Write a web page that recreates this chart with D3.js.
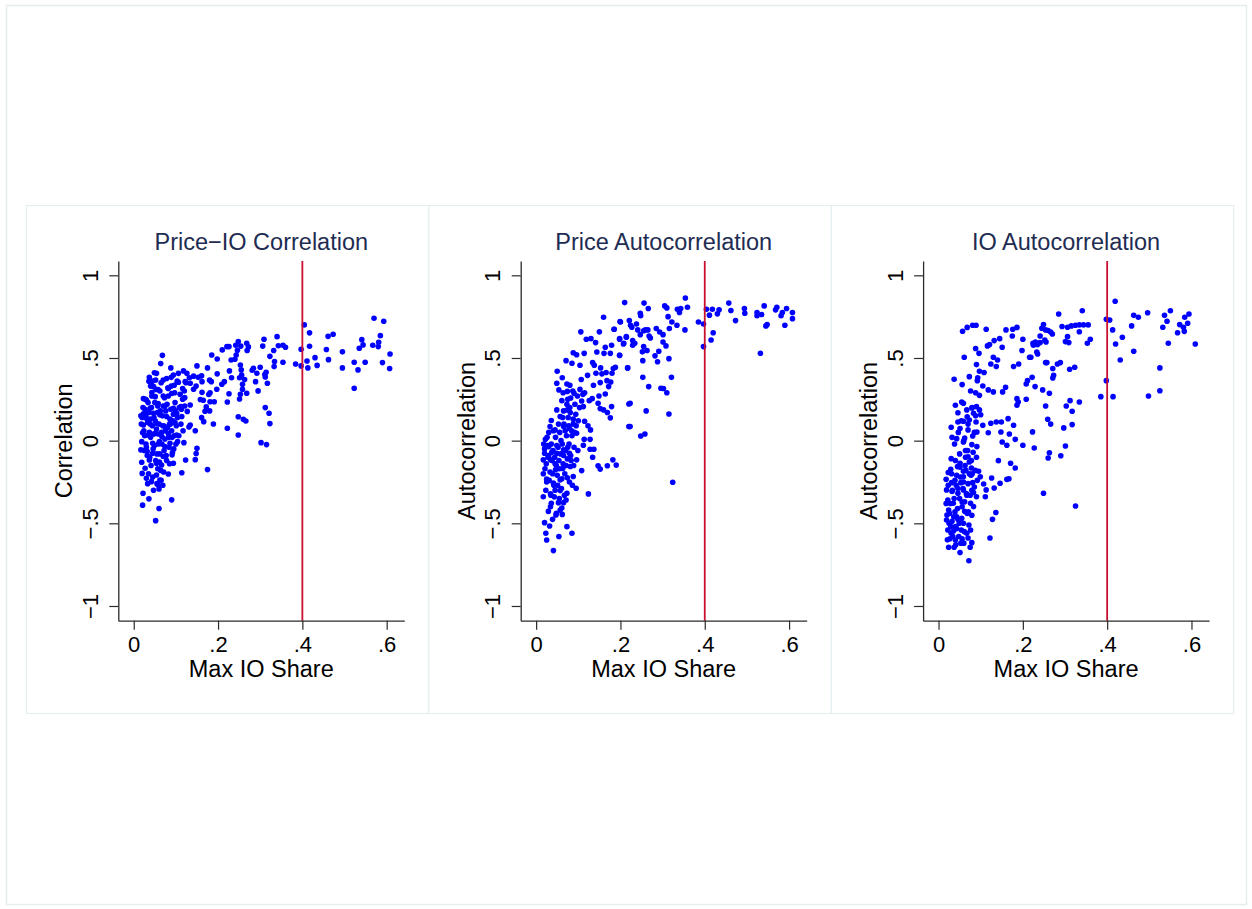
<!DOCTYPE html>
<html>
<head>
<meta charset="utf-8">
<script src="https://cdn.jsdelivr.net/npm/d3@7"></script>
<style>
  html, body { margin: 0; padding: 0; background: #ffffff; }
  svg { display: block; font-family: "Liberation Sans", Arial, Helvetica, sans-serif; }
</style>
</head>
<body>
<svg id="chart" width="1252" height="909"></svg>
<script>
// ---------------- data ----------------
const panelTitles = ["Price\u2212IO Correlation", "Price Autocorrelation", "IO Autocorrelation"];
const yAxisTitles = ["Correlation", "Autocorrelation", "Autocorrelation"];
const xAxisTitle = "Max IO Share";
const xTickValues = [0, 0.2, 0.4, 0.6];
const xTickLabels = ["0", ".2", ".4", ".6"];
const yTickValues = [-1, -0.5, 0, 0.5, 1];
const yTickLabels = ["\u22121", "\u2212.5", "0", ".5", "1"];
const cutoffLine = 0.4;

// Panel 1: Price-IO correlation vs max IO share
const pricePoints = [
[0.4045,0.700],[0.417,0.652],[0.397,0.553],[0.417,0.571],[0.411,0.482],[0.397,0.452],[0.413,0.44],[0.43,0.502],[0.435,0.455],[0.384,0.464],
[0.461,0.631],[0.473,0.644],[0.457,0.551],[0.462,0.49],[0.495,0.537],[0.495,0.44],[0.523,0.474],[0.523,0.317],[0.532,0.428],[0.549,0.474],
[0.535,0.559],[0.541,0.611],[0.544,0.579],[0.567,0.577],[0.570,0.740],[0.593,0.722],[0.585,0.635],[0.581,0.595],[0.58,0.569],[0.608,0.524],
[0.59,0.472],[0.607,0.436],
[0.309,0.613],[0.306,0.572],[0.34,0.629],[0.343,0.574],[0.354,0.577],[0.36,0.565],[0.332,0.545],[0.323,0.51],[0.334,0.478],[0.333,0.448],
[0.354,0.474],[0.248,0.599],[0.242,0.577],[0.221,0.569],[0.226,0.569],[0.21,0.549],[0.254,0.572],[0.268,0.589],[0.272,0.567],[0.269,0.545],
[0.246,0.547],[0.243,0.518],[0.24,0.492],[0.231,0.488],[0.185,0.518],[0.198,0.494],[0.15,0.452],[0.175,0.44],[0.253,0.458],[0.255,0.428],
[0.284,0.438],[0.281,0.426],[0.3,0.444],[0.314,0.414],[0.312,0.385],[0.317,0.347],[0.311,0.40],[0.292,0.408],[0.289,0.357],[0.295,0.301],
[0.312,0.2],[0.321,0.166],[0.323,0.103],[0.302,-0.012],[0.315,-0.024],[0.248,0.145],[0.26,0.129],[0.266,0.119],[0.248,0.034],[0.222,0.075],
[0.256,0.397],[0.251,0.38],[0.263,0.37],[0.258,0.341],[0.258,0.311],[0.268,0.287],[0.251,0.252],[0.253,0.28],[0.226,0.284],[0.222,0.234],
[0.232,0.38],[0.209,0.341],[0.215,0.357],[0.197,0.311],[0.198,0.404],[0.184,0.357],[0.18,0.366],[0.181,0.29],[0.178,0.279],[0.191,0.235],
[0.181,0.235],[0.172,0.204],[0.161,0.139],[0.166,0.115],[0.189,0.101],[0.146,0.06],[0.15,-0.046],[0.148,-0.078],[0.146,-0.115],[0.175,-0.175],
[0.134,0.216],[0.134,0.347],[0.153,0.383],[0.142,0.39],[0.161,0.392],[0.162,0.357],[0.148,0.33],[0.142,0.311],[0.162,0.292],[0.158,0.249],
[0.165,0.244],[0.18,0.18],[0.169,0.178],[0.227,0.422],[0.134,0.095],
[0.068,0.516],[0.064,0.466],[0.088,0.44],[0.049,0.411],[0.054,0.407],[0.037,0.383],[0.036,0.359],[0.052,0.367],[0.07,0.367],[0.078,0.376],
[0.089,0.383],[0.094,0.397],[0.106,0.407],[0.118,0.422],[0.126,0.407],[0.106,0.353],[0.122,0.357],[0.132,0.38],[0.047,0.327],[0.058,0.309],
[0.043,0.291],[0.023,0.254],[0.03,0.246],[0.051,0.266],[0.07,0.27],[0.09,0.285],[0.082,0.315],[0.096,0.335],[0.116,0.315],[0.121,0.26],
[0.112,0.206],[0.094,0.196],[0.074,0.209],[0.058,0.224],[0.039,0.196],[0.023,0.162],[0.017,0.151],[0.03,0.136],[0.047,0.166],[0.062,0.156],
[0.078,0.146],[0.102,0.166],[0.114,0.146],[0.127,0.177],[0.023,0.095],[0.039,0.1],[0.054,0.105],[0.072,0.088],[0.085,0.1],[0.098,0.109],
[0.131,0.082],[0.021,0.048],[0.035,0.034],[0.051,0.044],[0.067,0.024],[0.082,0.044],[0.102,0.034],[0.019,-0.006],[0.029,-0.02],[0.045,-0.016],
[0.061,-0.006],[0.074,-0.036],[0.086,-0.016],[0.104,-0.006],[0.119,-0.012],[0.017,-0.056],[0.032,-0.066],[0.045,-0.076],[0.062,-0.08],[0.07,-0.096],
[0.091,-0.086],[0.094,-0.137],[0.019,-0.131],[0.037,-0.117],[0.054,-0.137],[0.066,-0.147],[0.027,-0.167],[0.123,-0.117],[0.114,-0.194],[0.02,-0.198],
[0.03,-0.228],[0.042,-0.248],[0.054,-0.208],[0.062,-0.238],[0.082,-0.202],[0.058,-0.268],[0.06,-0.292],[0.022,-0.318],[0.036,-0.352],[0.09,-0.358],
[0.021,-0.39],[0.06,-0.41],[0.052,-0.484],
[0.02,0.14],[0.024,0.06],[0.027,0.19],[0.03,-0.04],[0.033,0.11],[0.036,0.17],[0.038,-0.1],[0.04,0.02],[0.042,0.2],[0.044,0.09],
[0.046,-0.05],[0.048,0.14],[0.05,0.23],[0.052,-0.12],[0.054,0.07],[0.056,0.17],[0.058,-0.02],[0.06,0.1],[0.062,0.3],[0.064,-0.18],
[0.066,0.05],[0.068,0.15],[0.07,0.21],[0.072,-0.06],[0.074,0.01],[0.076,0.18],[0.078,-0.12],[0.08,0.08],[0.082,0.27],[0.084,-0.04],
[0.086,0.13],[0.088,0.19],[0.09,0.06],[0.092,-0.07],[0.094,0.16],[0.096,0.03],[0.098,0.23],[0.1,-0.02],[0.104,0.14],[0.108,0.2],
[0.112,0.1],[0.116,0.25],[0.12,0.3],[0.124,0.35],[0.035,-0.2],[0.045,-0.22],[0.055,-0.26],[0.065,-0.24],[0.028,0.25],[0.04,0.33],
[0.018,0.1],[0.022,0.2],[0.026,0.03],[0.029,0.16],[0.032,-0.09],[0.034,0.23],[0.037,0.05],[0.039,0.13],[0.041,-0.15],[0.043,0.27],
[0.047,0.04],[0.049,-0.03],[0.051,0.12],[0.053,0.31],[0.055,-0.08],[0.057,0.21],[0.059,0.04],[0.061,-0.13],[0.063,0.18],[0.065,0.35],
[0.067,-0.02],[0.069,0.09],[0.071,-0.19],[0.073,0.26],[0.075,0.06],[0.077,-0.09],[0.079,0.22],[0.081,0.32],[0.083,0.02],[0.085,-0.14],
[0.087,0.1],[0.089,0.33],[0.091,0.02],[0.093,0.12],[0.095,-0.05],[0.097,0.29],[0.099,0.18],[0.101,0.09],[0.103,0.36],[0.107,0.03],
[0.11,0.28],[0.113,0.19],[0.117,0.06],[0.121,0.21],[0.025,-0.06],[0.033,-0.26],[0.047,-0.3],[0.057,-0.17],[0.069,-0.27],[0.044,0.36]
];

// Panel 2: Price autocorrelation vs max IO share
const priceAutoPoints = [
[0.106,0.658],[0.15,0.658],[0.199,0.72],[0.185,0.674],[0.119,0.613],[0.13,0.617],[0.141,0.593],[0.164,0.565],[0.179,0.577],[0.198,0.613],
[0.214,0.629],[0.207,0.585],[0.088,0.532],[0.096,0.52],[0.114,0.528],[0.144,0.536],[0.161,0.528],[0.176,0.528],[0.198,0.516],[0.071,0.484],
[0.085,0.468],[0.104,0.456],[0.134,0.472],[0.138,0.456],[0.153,0.44],[0.166,0.412],[0.183,0.436],[0.188,0.444],[0.18,0.408],[0.217,0.44],
[0.05,0.42],[0.062,0.38],[0.049,0.347],[0.073,0.343],[0.08,0.335],[0.122,0.395],[0.142,0.408],[0.156,0.404],[0.168,0.363],[0.177,0.355],
[0.152,0.351],[0.136,0.335],[0.172,0.327],[0.054,0.307],[0.064,0.29],[0.074,0.298],[0.09,0.286],[0.082,0.258],[0.061,0.242],[0.115,0.29],
[0.164,0.282],[0.149,0.27],[0.126,0.242],[0.133,0.254],[0.112,0.206],[0.152,0.194],[0.179,0.206],[0.147,0.226],[0.16,0.186],[0.169,0.17],
[0.176,0.138],[0.22,0.222],[0.22,0.085],[0.049,0.186],[0.057,0.146],[0.074,0.186],[0.088,0.13],[0.115,0.117],[0.123,0.09],[0.129,0.065],
[0.036,0.122],[0.033,0.085],[0.045,0.065],[0.065,0.085],[0.079,0.075],[0.096,0.045],[0.114,0.008],[0.128,0.008],[0.112,-0.028],[0.128,-0.052],
[0.137,-0.052],[0.134,-0.1],[0.147,-0.152],[0.152,-0.172],[0.169,-0.152],[0.182,-0.116],[0.19,-0.148],[0.022,0.008],[0.03,-0.036],[0.02,-0.076],
[0.017,-0.116],[0.034,-0.116],[0.049,-0.076],[0.065,-0.056],[0.079,-0.076],[0.096,-0.116],[0.108,-0.181],[0.081,-0.156],[0.063,-0.168],[0.046,-0.176],
[0.017,-0.2],[0.025,-0.233],[0.041,-0.257],[0.057,-0.237],[0.074,-0.225],[0.088,-0.217],[0.095,-0.288],[0.124,-0.322],[0.017,-0.339],[0.034,-0.322],
[0.057,-0.302],[0.073,-0.318],[0.036,-0.379],[0.053,-0.375],[0.065,-0.375],[0.071,-0.359],[0.061,-0.407],[0.029,-0.428],[0.048,-0.44],[0.062,-0.446],
[0.039,-0.476],[0.02,-0.496],[0.032,-0.516],[0.073,-0.52],[0.023,-0.56],[0.054,-0.58],[0.085,-0.56],[0.025,-0.601],[0.041,-0.665],
[0.21,0.835],[0.16,0.746],[0.256,0.832],[0.266,0.799],[0.247,0.771],[0.248,0.755],[0.305,0.815],[0.31,0.803],[0.313,0.75],[0.322,0.718],
[0.335,0.795],[0.34,0.775],[0.343,0.799],[0.354,0.863],[0.359,0.807],[0.334,0.698],[0.353,0.67],[0.385,0.718],[0.397,0.706],[0.397,0.569],
[0.404,0.795],[0.418,0.795],[0.411,0.759],[0.434,0.791],[0.43,0.767],[0.42,0.653],[0.415,0.609],[0.457,0.832],[0.462,0.787],[0.473,0.726],
[0.494,0.799],[0.495,0.771],[0.524,0.775],[0.524,0.755],[0.535,0.763],[0.541,0.815],[0.532,0.529],[0.545,0.694],[0.548,0.702],[0.568,0.791],
[0.571,0.807],[0.581,0.755],[0.584,0.775],[0.594,0.799],[0.59,0.698],[0.608,0.775],[0.608,0.738],
[0.185,0.674],[0.2,0.718],[0.221,0.726],[0.224,0.698],[0.227,0.686],[0.238,0.706],[0.241,0.67],[0.247,0.641],[0.255,0.665],[0.259,0.67],
[0.265,0.67],[0.268,0.633],[0.271,0.621],[0.285,0.678],[0.293,0.657],[0.301,0.641],[0.316,0.678],[0.301,0.597],[0.308,0.573],[0.291,0.541],
[0.282,0.513],[0.288,0.477],[0.315,0.496],[0.255,0.569],[0.252,0.537],[0.263,0.545],[0.253,0.484],[0.229,0.605],[0.234,0.589],[0.229,0.577],
[0.214,0.625],[0.208,0.589],[0.198,0.617],[0.198,0.516],[0.217,0.44],[0.253,0.383],[0.321,0.383],[0.267,0.327],[0.296,0.317],[0.302,0.315],
[0.31,0.29],[0.223,0.226],[0.261,0.18],[0.315,0.161],[0.223,0.085],[0.248,0.028],[0.258,0.04],[0.324,-0.252],
[0.02,-0.05],[0.024,-0.14],[0.027,-0.03],[0.03,-0.09],[0.033,-0.19],[0.036,-0.02],[0.038,-0.12],[0.04,-0.06],[0.042,-0.27],[0.044,-0.1],
[0.046,0.02],[0.048,-0.15],[0.05,-0.21],[0.052,-0.04],[0.054,-0.12],[0.056,0.05],[0.058,-0.08],[0.06,-0.29],[0.062,-0.02],[0.064,-0.14],
[0.066,0.1],[0.068,-0.2],[0.07,-0.06],[0.072,0.03],[0.074,-0.11],[0.076,0.14],[0.078,-0.02],[0.08,0.2],[0.082,-0.09],[0.084,0.06],
[0.086,-0.27],[0.088,0.1],[0.09,-0.04],[0.092,0.22],[0.094,0.16],[0.098,0.27],[0.1,0.12],[0.104,0.31],[0.108,0.24],[0.03,0.05],
[0.035,-0.33],[0.045,-0.3],[0.055,-0.35],[0.025,-0.25],[0.065,0.18],[0.075,0.25],
[0.018,-0.02],[0.021,-0.17],[0.023,-0.3],[0.026,0.02],[0.028,-0.1],[0.031,-0.24],[0.034,-0.4],[0.037,-0.07],[0.039,-0.2],[0.041,0.06],
[0.043,-0.34],[0.045,-0.14],[0.047,-0.45],[0.049,-0.03],[0.051,-0.27],[0.053,0.1],[0.055,-0.17],[0.057,-0.42],[0.059,0.0],[0.061,-0.23],
[0.063,0.14],[0.065,-0.09],[0.067,-0.33],[0.069,0.06],[0.071,-0.15],[0.073,0.22],[0.075,-0.04],[0.077,0.09],[0.079,-0.25],[0.081,0.17],
[0.083,-0.12],[0.085,0.03],[0.087,0.3],[0.089,-0.15],[0.091,0.05],[0.095,0.09],[0.099,-0.06],[0.103,0.2],[0.107,0.37],[0.111,0.28]
];

// Panel 3: IO autocorrelation vs max IO share
const ioAutoPoints = [
[0.057,0.662],[0.068,0.685],[0.081,0.698],[0.089,0.698],[0.113,0.674],[0.16,0.67],[0.176,0.674],[0.186,0.685],[0.175,0.633],[0.2,0.613],
[0.145,0.617],[0.132,0.605],[0.151,0.565],[0.116,0.573],[0.121,0.581],[0.088,0.557],[0.096,0.528],[0.061,0.504],[0.13,0.504],[0.14,0.488],
[0.198,0.545],[0.216,0.504],[0.124,0.464],[0.137,0.448],[0.09,0.46],[0.178,0.448],[0.19,0.464],[0.097,0.42],[0.108,0.412],[0.073,0.387],
[0.037,0.371],[0.056,0.339],[0.092,0.363],[0.105,0.331],[0.159,0.323],[0.118,0.307],[0.13,0.295],[0.152,0.295],[0.088,0.29],[0.097,0.274],
[0.186,0.254],[0.208,0.25],[0.189,0.234],[0.186,0.214],[0.211,0.363],[0.208,0.343],[0.055,0.234],[0.059,0.226],[0.04,0.214],[0.067,0.186],
[0.079,0.198],[0.09,0.206],[0.097,0.186],[0.083,0.165],[0.1,0.157],[0.046,0.169],[0.068,0.145],[0.046,0.113],[0.059,0.117],[0.073,0.125],
[0.089,0.113],[0.105,0.093],[0.124,0.105],[0.137,0.113],[0.149,0.113],[0.165,0.133],[0.178,0.093],[0.03,0.081],[0.051,0.073],[0.07,0.065],
[0.091,0.052],[0.118,0.048],[0.148,0.052],[0.168,0.04],[0.032,0.02],[0.043,0.012],[0.062,0.016],[0.081,0.028],[0.182,0.008],[0.038,-0.02],
[0.059,-0.008],[0.079,-0.024],[0.091,-0.036],[0.151,-0.008],[0.162,-0.028],[0.2,-0.028],[0.064,-0.06],[0.07,-0.097],[0.073,-0.129],[0.03,-0.109],
[0.051,-0.137],[0.142,-0.121],[0.171,-0.137],[0.182,-0.165],[0.029,-0.173],[0.023,-0.193],[0.045,-0.157],[0.059,-0.185],[0.078,-0.165],[0.043,-0.21],
[0.059,-0.218],[0.077,-0.21],[0.095,-0.185],[0.099,-0.218],[0.018,-0.234],[0.031,-0.254],[0.053,-0.254],[0.081,-0.254],[0.126,-0.226],[0.132,-0.286],
[0.146,-0.258],[0.162,-0.234],[0.167,-0.230],[0.107,-0.262],[0.113,-0.298],[0.111,-0.339],[0.019,-0.298],[0.032,-0.308],[0.046,-0.318],[0.059,-0.298],
[0.067,-0.33],[0.083,-0.314],[0.09,-0.339],[0.022,-0.359],[0.035,-0.379],[0.056,-0.371],[0.076,-0.379],[0.083,-0.399],[0.024,-0.419],[0.039,-0.431],
[0.062,-0.427],[0.079,-0.451],[0.136,-0.435],[0.128,-0.476],[0.019,-0.48],[0.032,-0.488],[0.046,-0.476],[0.059,-0.5],[0.022,-0.54],[0.035,-0.548],
[0.043,-0.532],[0.054,-0.54],[0.067,-0.56],[0.027,-0.593],[0.04,-0.601],[0.056,-0.593],[0.07,-0.589],[0.079,-0.617],[0.122,-0.589],[0.024,-0.645],
[0.037,-0.645],[0.051,-0.677],[0.075,-0.645],[0.072,-0.726],
[0.285,0.766],[0.341,0.786],[0.419,0.843],[0.398,0.734],[0.406,0.73],[0.413,0.67],[0.42,0.585],[0.436,0.625],[0.431,0.488],[0.398,0.363],
[0.385,0.266],[0.414,0.266],[0.463,0.758],[0.474,0.746],[0.458,0.694],[0.463,0.541],[0.496,0.774],[0.498,0.27],[0.525,0.44],[0.525,0.302],
[0.536,0.758],[0.542,0.722],[0.532,0.686],[0.55,0.786],[0.545,0.589],[0.567,0.653],[0.572,0.702],[0.581,0.686],[0.583,0.661],[0.584,0.746],
[0.594,0.766],[0.591,0.71],[0.609,0.585],[0.293,0.69],[0.306,0.686],[0.315,0.694],[0.325,0.698],[0.334,0.7],[0.344,0.7],[0.355,0.7],
[0.334,0.659],[0.36,0.613],[0.353,0.589],[0.306,0.629],[0.301,0.599],[0.309,0.593],[0.249,0.702],[0.245,0.68],[0.254,0.67],[0.26,0.666],
[0.266,0.657],[0.27,0.645],[0.241,0.633],[0.252,0.609],[0.255,0.597],[0.241,0.593],[0.23,0.597],[0.224,0.589],[0.225,0.577],[0.235,0.581],
[0.233,0.536],[0.235,0.524],[0.219,0.504],[0.254,0.472],[0.257,0.472],[0.271,0.436],[0.282,0.464],[0.289,0.472],[0.311,0.432],[0.323,0.444],
[0.273,0.395],[0.271,0.379],[0.222,0.383],[0.229,0.327],[0.247,0.307],[0.263,0.287],[0.254,0.21],[0.259,0.129],[0.266,0.1],[0.312,0.242],
[0.303,0.21],[0.317,0.178],[0.334,0.234],[0.297,0.077],[0.317,0.097],[0.301,-0.032],[0.29,-0.091],[0.26,-0.105],[0.263,-0.073],[0.227,-0.044],
[0.249,-0.318],[0.325,-0.395],[0.223,0.053],
[0.02,-0.45],[0.025,-0.5],[0.028,-0.38],[0.03,-0.56],[0.033,-0.3],[0.036,-0.46],[0.04,-0.52],[0.042,-0.27],[0.045,-0.41],[0.048,-0.58],
[0.05,-0.35],[0.052,-0.22],[0.055,-0.47],[0.058,-0.29],[0.06,-0.62],[0.062,-0.37],[0.065,-0.18],[0.068,-0.44],[0.07,-0.26],[0.072,-0.51],
[0.075,-0.33],[0.078,-0.12],[0.08,-0.2],[0.085,-0.28],[0.09,-0.1],[0.05,-0.08],[0.04,-0.12],[0.06,0.0],[0.07,0.1],[0.08,0.2],
[0.018,-0.38],[0.021,-0.6],[0.023,-0.27],[0.026,-0.44],[0.029,-0.52],[0.031,-0.2],[0.034,-0.58],[0.037,-0.35],[0.039,-0.24],[0.041,-0.63],
[0.043,-0.46],[0.046,-0.29],[0.049,-0.5],[0.051,-0.16],[0.053,-0.62],[0.056,-0.4],[0.059,-0.25],[0.061,-0.55],[0.063,-0.15],[0.066,-0.32],
[0.069,-0.06],[0.071,-0.43],[0.073,-0.2],[0.076,-0.54],[0.079,-0.3],[0.082,-0.07],[0.087,-0.18],[0.092,-0.24],[0.047,0.05],[0.054,0.12],
[0.064,-0.1],[0.085,0.05],[0.088,0.15],[0.076,0.3],[0.093,0.38]
];

const panelData = [pricePoints, priceAutoPoints, ioAutoPoints];

// ---------------- drawing ----------------
const svg = d3.select("#chart");
const FONT = '"Liberation Sans", Arial, Helvetica, sans-serif';
const panelStep = 402.4;
const tickFont = 22;
const titleFont = 23.5;

// outer frame
svg.append("rect")
  .attr("x", 6.5).attr("y", 5.5).attr("width", 1240).attr("height", 899)
  .attr("fill", "#ffffff").attr("stroke", "#e6eef0").attr("stroke-width", 1.5);

panelData.forEach((pts, i) => {
  const dx = i * panelStep;
  const g = svg.append("g");

  // panel frame
  g.append("rect")
    .attr("x", 26.5 + dx).attr("y", 205.5).attr("width", panelStep).attr("height", 508)
    .attr("fill", "#ffffff").attr("stroke", "#e6eef0").attr("stroke-width", 1.2);

  const x = d3.scaleLinear().domain([-0.0366, 0.6418]).range([118.3 + dx, 404.3 + dx]);
  const y = d3.scaleLinear().domain([-1.089, 1.0866]).range([620.7, 261]);

  // points
  g.append("g").selectAll("circle").data(pts).join("circle")
    .attr("cx", d => x(d[0])).attr("cy", d => y(d[1]))
    .attr("r", 2.8).attr("fill", "#0000ff");

  // cutoff line
  g.append("line")
    .attr("x1", x(cutoffLine)).attr("x2", x(cutoffLine))
    .attr("y1", y.range()[1]).attr("y2", y.range()[0])
    .attr("stroke", "#c8102e").attr("stroke-width", 1.8);

  // x axis
  const xAxis = d3.axisBottom(x).tickValues(xTickValues)
    .tickFormat((d, k) => xTickLabels[k]).tickSize(9).tickSizeOuter(0).tickPadding(3);
  const xg = g.append("g").attr("transform", `translate(0,${y.range()[0]})`).call(xAxis);
  xg.select(".domain").attr("stroke", "#2b2b2b").attr("stroke-width", 1.3);
  xg.selectAll(".tick line").attr("stroke", "#2b2b2b").attr("stroke-width", 1.2);
  xg.selectAll(".tick text").attr("font-family", FONT).attr("font-size", tickFont).attr("fill", "#000")
    .attr("dy", null).attr("y", 31.5);

  // y axis
  const yAxis = d3.axisLeft(y).tickValues(yTickValues)
    .tickFormat((d, k) => yTickLabels[k]).tickSize(9).tickSizeOuter(0);
  const yg = g.append("g").attr("transform", `translate(${x.range()[0]},0)`).call(yAxis);
  yg.select(".domain").attr("stroke", "#2b2b2b").attr("stroke-width", 1.3);
  yg.selectAll(".tick line").attr("stroke", "#2b2b2b").attr("stroke-width", 1.2);
  yg.selectAll(".tick text").attr("font-family", FONT).attr("font-size", tickFont).attr("fill", "#000")
    .attr("x", 0).attr("y", -20.5).attr("dy", null)
    .attr("text-anchor", "middle").attr("transform", "rotate(-90)");

  const cx = (x.range()[0] + x.range()[1]) / 2;
  const cy = (y.range()[0] + y.range()[1]) / 2;

  // axis titles
  g.append("text").attr("x", cx).attr("y", 677.3)
    .attr("text-anchor", "middle").attr("font-family", FONT).attr("font-size", titleFont)
    .attr("fill", "#000").text(xAxisTitle);
  g.append("text").attr("transform", `translate(${72.3 + dx},${cy}) rotate(-90)`)
    .attr("text-anchor", "middle").attr("font-family", FONT).attr("font-size", titleFont)
    .attr("fill", "#000").text(yAxisTitles[i]);

  // panel title
  g.append("text").attr("x", cx).attr("y", 250)
    .attr("text-anchor", "middle").attr("font-family", FONT).attr("font-size", titleFont)
    .attr("fill", "#1e2c52").text(panelTitles[i]);
});
</script>
</body>
</html>
